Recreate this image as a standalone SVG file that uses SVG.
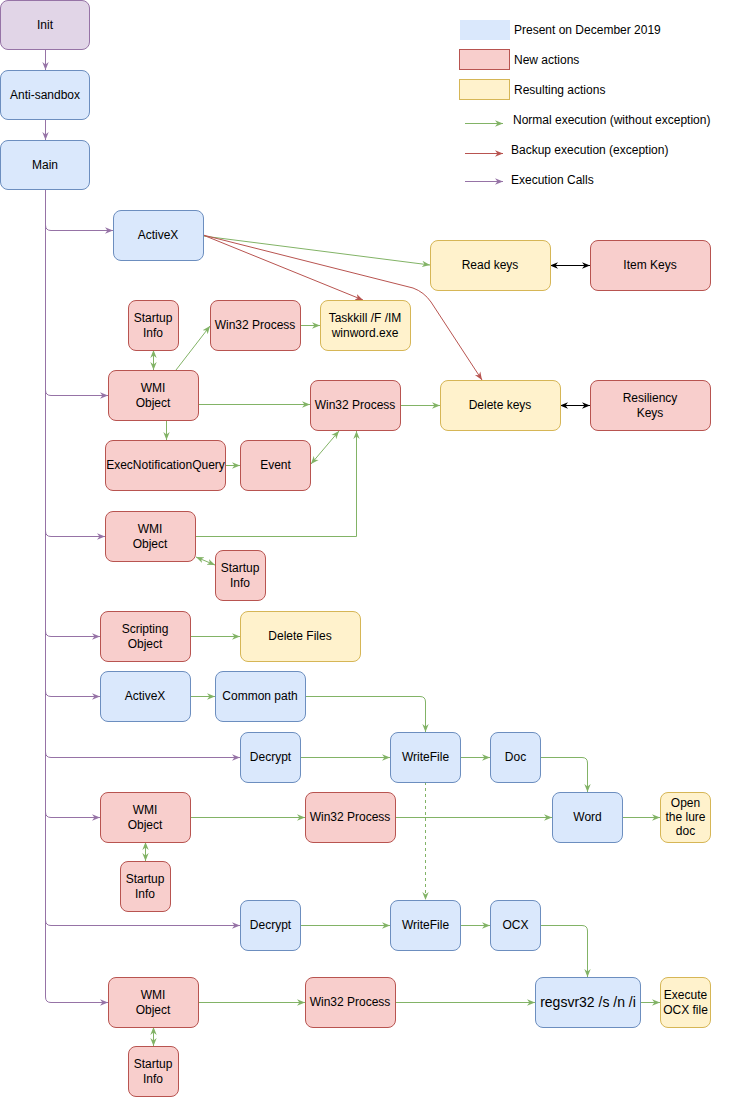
<svg xmlns="http://www.w3.org/2000/svg" width="732" height="1097" viewBox="0 0 732 1097">
<style>
.b{fill:#dae8fc;stroke:#6c8ebf}
.r{fill:#f8cecc;stroke:#b85450}
.y{fill:#fff2cc;stroke:#d6b656}
.p{fill:#e1d5e7;stroke:#9673a6}
text{font-family:"Liberation Sans",Arial,sans-serif;font-size:12px;fill:#000}
.n text{text-anchor:middle}
.g{stroke:#82b366;fill:none}
.rd{stroke:#b85450;fill:none}
.pu{stroke:#9673a6;fill:none}
.k{stroke:#000;fill:none}
</style>
<defs>
<marker id="ag" viewBox="0 0 10 10" refX="10" refY="5" markerWidth="8" markerHeight="8" markerUnits="userSpaceOnUse" orient="auto-start-reverse"><path d="M0,1 L10,5 L0,9 L3,5 z" fill="#82b366"/></marker>
<marker id="ar" viewBox="0 0 10 10" refX="10" refY="5" markerWidth="8" markerHeight="8" markerUnits="userSpaceOnUse" orient="auto-start-reverse"><path d="M0,1 L10,5 L0,9 L3,5 z" fill="#b85450"/></marker>
<marker id="ap" viewBox="0 0 10 10" refX="10" refY="5" markerWidth="8" markerHeight="8" markerUnits="userSpaceOnUse" orient="auto-start-reverse"><path d="M0,1 L10,5 L0,9 L3,5 z" fill="#9673a6"/></marker>
<marker id="ak" viewBox="0 0 10 10" refX="10" refY="5" markerWidth="8" markerHeight="8" markerUnits="userSpaceOnUse" orient="auto-start-reverse"><path d="M0,1 L10,5 L0,9 L3,5 z" fill="#000"/></marker>
</defs>
<rect width="732" height="1097" fill="#fff"/>

<g id="legend">
<rect x="460" y="20" width="50" height="20" fill="#dae8fc"/>
<rect x="459.5" y="49.5" width="50" height="20" class="r"/>
<rect x="459.5" y="79.5" width="50" height="20" class="y"/>
<text x="514" y="34">Present on December 2019</text>
<text x="514" y="64">New actions</text>
<text x="514" y="94">Resulting actions</text>
<line x1="465" y1="123.5" x2="503" y2="123.5" class="g" marker-end="url(#ag)"/>
<line x1="465" y1="153.5" x2="503" y2="153.5" class="rd" marker-end="url(#ar)"/>
<line x1="465" y1="181.5" x2="503" y2="181.5" class="pu" marker-end="url(#ap)"/>
<text x="513" y="124">Normal execution (without exception)</text>
<text x="511" y="154">Backup execution (exception)</text>
<text x="511" y="184">Execution Calls</text>
</g>

<g id="connectors">
<line x1="45.5" y1="50" x2="45.5" y2="70" class="pu" marker-end="url(#ap)"/>
<line x1="45.5" y1="120" x2="45.5" y2="140" class="pu" marker-end="url(#ap)"/>
<line x1="45.5" y1="190" x2="45.5" y2="997" class="pu"/>
<path d="M45.5,225 Q45.5,230.5 51,230.5 H113" class="pu" marker-end="url(#ap)"/>
<path d="M45.5,390 Q45.5,395.5 51,395.5 H108" class="pu" marker-end="url(#ap)"/>
<path d="M45.5,531 Q45.5,536.5 51,536.5 H105" class="pu" marker-end="url(#ap)"/>
<path d="M45.5,631 Q45.5,636.5 51,636.5 H100" class="pu" marker-end="url(#ap)"/>
<path d="M45.5,691 Q45.5,696.5 51,696.5 H100" class="pu" marker-end="url(#ap)"/>
<path d="M45.5,752 Q45.5,757.5 51,757.5 H240" class="pu" marker-end="url(#ap)"/>
<path d="M45.5,812 Q45.5,817.5 51,817.5 H100" class="pu" marker-end="url(#ap)"/>
<path d="M45.5,920 Q45.5,925.5 51,925.5 H240" class="pu" marker-end="url(#ap)"/>
<path d="M45.5,997 Q45.5,1002.5 51,1002.5 H108" class="pu" marker-end="url(#ap)"/>

<line x1="203" y1="236" x2="430" y2="265" class="g" marker-end="url(#ag)"/>
<line x1="203" y1="235" x2="363" y2="300" class="rd" marker-end="url(#ar)"/>
<path d="M203,235 L413,288 Q424,292 431,302 L482,380" class="rd" marker-end="url(#ar)"/>
<line x1="550" y1="265.5" x2="590" y2="265.5" class="k" marker-start="url(#ak)" marker-end="url(#ak)"/>
<line x1="560" y1="405.5" x2="590" y2="405.5" class="k" marker-start="url(#ak)" marker-end="url(#ak)"/>

<line x1="153.5" y1="350" x2="153.5" y2="370" class="g" marker-start="url(#ag)" marker-end="url(#ag)"/>
<line x1="176" y1="370" x2="210" y2="326" class="g" marker-end="url(#ag)"/>
<line x1="300" y1="325.5" x2="320" y2="325.5" class="g" marker-end="url(#ag)"/>
<line x1="198" y1="404.5" x2="310" y2="404.5" class="g" marker-end="url(#ag)"/>
<line x1="166.5" y1="420" x2="166.5" y2="440" class="g" marker-end="url(#ag)"/>
<line x1="225" y1="465.5" x2="240" y2="465.5" class="g" marker-end="url(#ag)"/>
<line x1="311" y1="464" x2="339" y2="431" class="g" marker-start="url(#ag)" marker-end="url(#ag)"/>
<path d="M196,536.5 H356.5 V431" class="g" marker-end="url(#ag)"/>
<line x1="196" y1="557" x2="215" y2="565" class="g" marker-start="url(#ag)" marker-end="url(#ag)"/>
<line x1="400" y1="405.5" x2="440" y2="405.5" class="g" marker-end="url(#ag)"/>

<line x1="190" y1="636.5" x2="240" y2="636.5" class="g" marker-end="url(#ag)"/>
<line x1="190" y1="696.5" x2="215" y2="696.5" class="g" marker-end="url(#ag)"/>
<path d="M305,696.5 H420 Q425.5,696.5 425.5,702 V732" class="g" marker-end="url(#ag)"/>
<line x1="300" y1="757.5" x2="390" y2="757.5" class="g" marker-end="url(#ag)"/>
<line x1="460" y1="757.5" x2="490" y2="757.5" class="g" marker-end="url(#ag)"/>
<path d="M540,757.5 H582 Q587.5,757.5 587.5,763 V792" class="g" marker-end="url(#ag)"/>
<line x1="425.5" y1="782" x2="425.5" y2="900" class="g" stroke-dasharray="3,3" marker-end="url(#ag)"/>

<line x1="190" y1="817.5" x2="305" y2="817.5" class="g" marker-end="url(#ag)"/>
<line x1="145.5" y1="842" x2="145.5" y2="861" class="g" marker-start="url(#ag)" marker-end="url(#ag)"/>
<line x1="395" y1="817.5" x2="552" y2="817.5" class="g" marker-end="url(#ag)"/>
<line x1="622" y1="817.5" x2="660" y2="817.5" class="g" marker-end="url(#ag)"/>

<line x1="300" y1="925.5" x2="390" y2="925.5" class="g" marker-end="url(#ag)"/>
<line x1="460" y1="925.5" x2="490" y2="925.5" class="g" marker-end="url(#ag)"/>
<path d="M540,925.5 H582 Q587.5,925.5 587.5,931 V977" class="g" marker-end="url(#ag)"/>

<line x1="198" y1="1002.5" x2="305" y2="1002.5" class="g" marker-end="url(#ag)"/>
<line x1="395" y1="1002.5" x2="535" y2="1002.5" class="g" marker-end="url(#ag)"/>
<line x1="640" y1="1002.5" x2="660" y2="1002.5" class="g" marker-end="url(#ag)"/>
<line x1="153.5" y1="1027" x2="153.5" y2="1046" class="g" marker-start="url(#ag)" marker-end="url(#ag)"/>
</g>

<g class="n">
<g id="init"><rect x="0.5" y="0.5" width="89" height="49" rx="7.5" class="p"/><text x="45" y="29">Init</text></g>
<g id="antisandbox"><rect x="0.5" y="70.5" width="89" height="49" rx="7.5" class="b"/><text x="45" y="99">Anti-sandbox</text></g>
<g id="main"><rect x="0.5" y="140.5" width="89" height="49" rx="7.5" class="b"/><text x="45" y="169">Main</text></g>

<g id="activex1"><rect x="113.5" y="210.5" width="90" height="50" rx="7.5" class="b"/><text x="158" y="239">ActiveX</text></g>
<g id="readkeys"><rect x="430.5" y="240.5" width="120" height="50" rx="7.5" class="y"/><text x="490" y="269">Read keys</text></g>
<g id="itemkeys"><rect x="590.5" y="240.5" width="120" height="50" rx="7.5" class="r"/><text x="650" y="269">Item Keys</text></g>
<g id="startup1"><rect x="128.5" y="300.5" width="50" height="50" rx="7.5" class="r"/><text x="153" y="321.5">Startup</text><text x="153" y="336.5">Info</text></g>
<g id="win32p1"><rect x="210.5" y="300.5" width="90" height="50" rx="7.5" class="r"/><text x="255" y="329">Win32 Process</text></g>
<g id="taskkill"><rect x="320.5" y="300.5" width="90" height="50" rx="7.5" class="y"/><text x="365" y="321.5">Taskkill /F /IM</text><text x="365" y="336.5">winword.exe</text></g>
<g id="wmi1"><rect x="108.5" y="370.5" width="90" height="50" rx="7.5" class="r"/><text x="153" y="391.5">WMI</text><text x="153" y="406.5">Object</text></g>
<g id="win32p2"><rect x="310.5" y="380.5" width="90" height="50" rx="7.5" class="r"/><text x="355" y="409">Win32 Process</text></g>
<g id="deletekeys"><rect x="440.5" y="380.5" width="120" height="50" rx="7.5" class="y"/><text x="500" y="409">Delete keys</text></g>
<g id="resiliency"><rect x="590.5" y="380.5" width="120" height="50" rx="7.5" class="r"/><text x="650" y="401.5">Resiliency</text><text x="650" y="416.5">Keys</text></g>
<g id="execnq"><rect x="105.5" y="440.5" width="120" height="50" rx="7.5" class="r"/><text x="165.5" y="469">ExecNotificationQuery</text></g>
<g id="event"><rect x="240.5" y="440.5" width="70" height="50" rx="7.5" class="r"/><text x="275.5" y="469">Event</text></g>
<g id="wmi2"><rect x="105.5" y="511.5" width="90" height="50" rx="7.5" class="r"/><text x="150" y="532.5">WMI</text><text x="150" y="547.5">Object</text></g>
<g id="startup2"><rect x="215.5" y="550.5" width="50" height="50" rx="7.5" class="r"/><text x="240" y="571.5">Startup</text><text x="240" y="586.5">Info</text></g>
<g id="scripting"><rect x="100.5" y="611.5" width="90" height="50" rx="7.5" class="r"/><text x="145" y="632.5">Scripting</text><text x="145" y="647.5">Object</text></g>
<g id="deletefiles"><rect x="240.5" y="611.5" width="120" height="50" rx="7.5" class="y"/><text x="300" y="640">Delete Files</text></g>
<g id="activex2"><rect x="100.5" y="671.5" width="90" height="50" rx="7.5" class="b"/><text x="145" y="700">ActiveX</text></g>
<g id="commonpath"><rect x="215.5" y="671.5" width="90" height="50" rx="7.5" class="b"/><text x="260" y="700">Common path</text></g>
<g id="decrypt1"><rect x="240.5" y="732.5" width="60" height="50" rx="7.5" class="b"/><text x="270.5" y="761">Decrypt</text></g>
<g id="writefile1"><rect x="390.5" y="732.5" width="70" height="50" rx="7.5" class="b"/><text x="425.5" y="761">WriteFile</text></g>
<g id="doc"><rect x="490.5" y="732.5" width="50" height="50" rx="7.5" class="b"/><text x="515.5" y="761">Doc</text></g>
<g id="wmi3"><rect x="100.5" y="792.5" width="90" height="50" rx="7.5" class="r"/><text x="145" y="813.5">WMI</text><text x="145" y="828.5">Object</text></g>
<g id="win32p3"><rect x="305.5" y="792.5" width="90" height="50" rx="7.5" class="r"/><text x="350" y="821">Win32 Process</text></g>
<g id="word"><rect x="552.5" y="792.5" width="70" height="50" rx="7.5" class="b"/><text x="587.5" y="821">Word</text></g>
<g id="openlure"><rect x="660.5" y="792.5" width="50" height="50" rx="7.5" class="y"/><text x="685.5" y="807">Open</text><text x="685.5" y="821">the lure</text><text x="685.5" y="835">doc</text></g>
<g id="startup3"><rect x="120.5" y="861.5" width="50" height="50" rx="7.5" class="r"/><text x="145" y="882.5">Startup</text><text x="145" y="897.5">Info</text></g>
<g id="decrypt2"><rect x="240.5" y="900.5" width="60" height="50" rx="7.5" class="b"/><text x="270.5" y="929">Decrypt</text></g>
<g id="writefile2"><rect x="390.5" y="900.5" width="70" height="50" rx="7.5" class="b"/><text x="425.5" y="929">WriteFile</text></g>
<g id="ocx"><rect x="490.5" y="900.5" width="50" height="50" rx="7.5" class="b"/><text x="515.5" y="929">OCX</text></g>
<g id="wmi4"><rect x="108.5" y="977.5" width="90" height="50" rx="7.5" class="r"/><text x="153" y="998.5">WMI</text><text x="153" y="1013.5">Object</text></g>
<g id="win32p4"><rect x="305.5" y="977.5" width="90" height="50" rx="7.5" class="r"/><text x="350" y="1006">Win32 Process</text></g>
<g id="regsvr"><rect x="535.5" y="977.5" width="105" height="50" rx="7.5" class="b"/><text x="588" y="1007" style="font-size:14px">regsvr32 /s /n /i</text></g>
<g id="executeocx"><rect x="660.5" y="977.5" width="50" height="50" rx="7.5" class="y"/><text x="685.5" y="998.5">Execute</text><text x="685.5" y="1013.5">OCX file</text></g>
<g id="startup4"><rect x="128.5" y="1046.5" width="50" height="50" rx="7.5" class="r"/><text x="153" y="1067.5">Startup</text><text x="153" y="1082.5">Info</text></g>
</g>
</svg>
